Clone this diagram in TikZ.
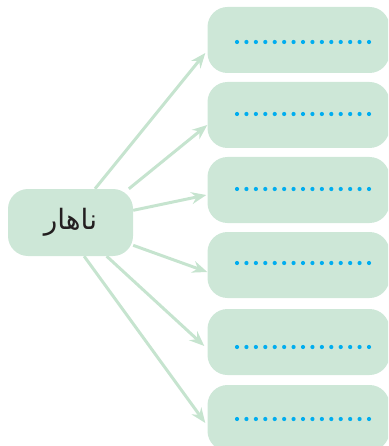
\documentclass[tikz,border=0pt]{standalone}
\usepackage{fontspec}
\newfontfamily\arabicfont[Script=Arabic]{DejaVu Sans}
\TeXXeTstate=1
\usetikzlibrary{arrows.meta,backgrounds}

\definecolor{boxgreen}{HTML}{CDE7D7}
\definecolor{arrowgreen}{HTML}{C6E4CF}
\definecolor{dotblue}{HTML}{00ADEF}
\definecolor{textgray}{HTML}{231F20}

\begin{document}
\begin{tikzpicture}[x=1pt, y=-1pt,
    >={Stealth[length=15pt,width=12pt,inset=5pt]},
    box/.style = {
      fill = boxgreen,
      rounded corners = 20pt,
      minimum width = 182pt,
      minimum height = 66pt,
      inner sep = 0pt
    },
    link/.style = {
      draw = arrowgreen,
      line width = 3pt,
      ->
    }
  ]
  \useasboundingbox (0,0) rectangle (388,446);
  \clip (0,0) rectangle (388,446);

  \node[box, minimum width=125pt, minimum height=67pt, text=textgray,
        font=\fontsize{28}{32}\selectfont] (lunch) at (70.5,222.5)
        {\arabicfont\beginR ناهار\endR};

  \foreach \n/\y in {1/40, 2/115, 3/190, 4/265, 5/342, 6/418}
    \node[box] (b\n) at (298.5,\y) {};

  % dotted blanks
  \foreach \n/\dy in {1/2, 2/-1, 3/-1, 4/-2, 5/5, 6/1}
    \foreach \i in {0,...,14}
      \fill[dotblue] ([xshift=-61.5pt+\i*9.43pt, yshift=-\dy pt]b\n.center) circle (2.1);

  \begin{scope}[on background layer]
    \draw[link] (lunch.54)  -- ([xshift=-2pt, yshift=-13pt]b1.west);
    \draw[link] (lunch.30)  -- ([yshift=-10pt]b2.west);
    \draw[link] (lunch.11)  -- ([xshift=-1pt, yshift=-5pt]b3.west);
    \draw[link] (lunch.-20) -- ([yshift=-7pt]b4.west);
    \draw[link] (lunch.-43) -- ([xshift=-3pt, yshift=-4pt]b5.west);
    \draw[link] (lunch.-68) -- ([xshift=-2pt, yshift=-5pt]b6.west);
  \end{scope}
\end{tikzpicture}
\end{document}
